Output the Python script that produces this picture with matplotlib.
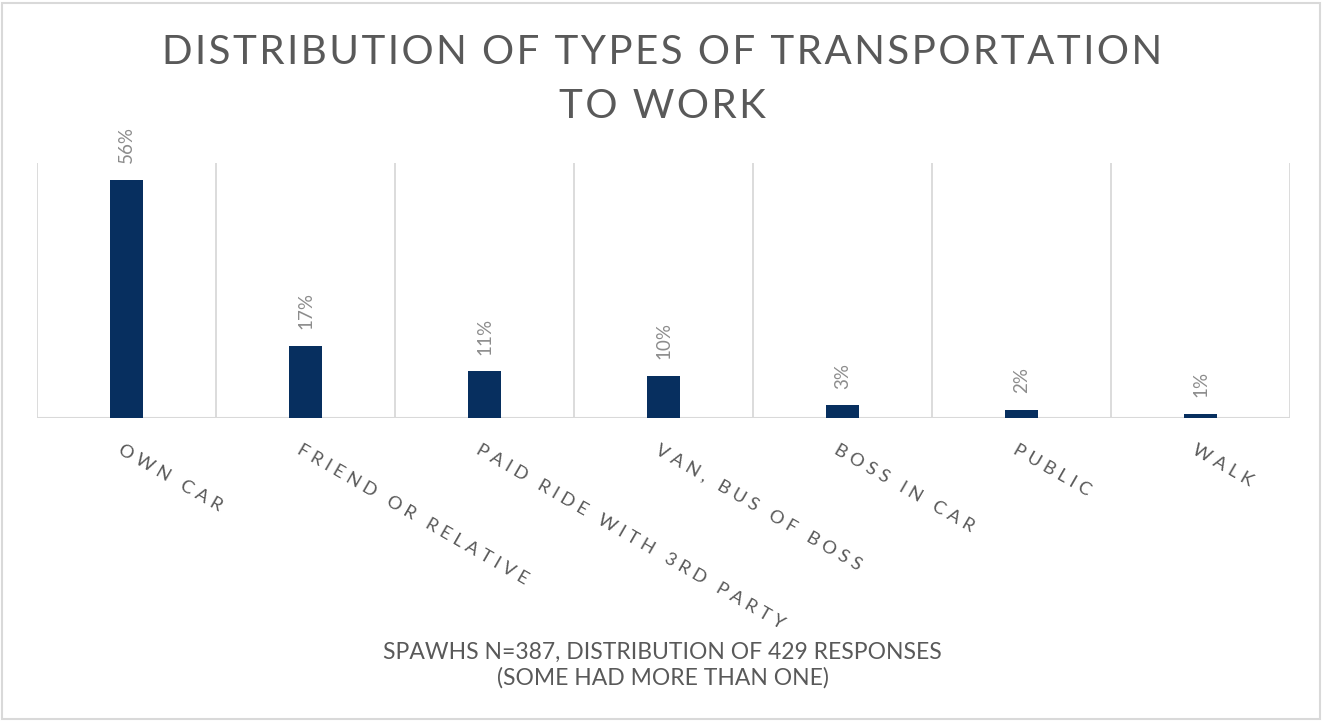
import matplotlib.pyplot as plt
import numpy as np
from matplotlib.patches import Rectangle

categories = ["OWN CAR", "FRIEND OR RELATIVE", "PAID RIDE WITH 3RD PARTY",
              "VAN, BUS OF BOSS", "BOSS IN CAR", "PUBLIC", "WALK"]
shares = [56, 17, 11, 10, 3, 2, 1]

TITLE_LINES = ["DISTRIBUTION OF TYPES OF TRANSPORTATION", "TO WORK"]
NOTE = "SPAWHS N=387, DISTRIBUTION OF 429 RESPONSES\n(SOME HAD MORE THAN ONE)"

BAR_COLOR = "#072f5f"
TEXT_COLOR = "#595959"
GRID_COLOR = "#d9d9d9"

plt.rcParams["font.family"] = ["Lato", "DejaVu Sans"]


def spaced(label: str) -> str:
    # wide tracking for the category labels
    return "   ".join(" ".join(word) for word in label.split(" "))


def tracked(line: str) -> str:
    # light tracking for the title, hair spaces between letters
    return "\u200a".join(line)


fig = plt.figure(figsize=(13.25, 7.21), dpi=100)
ax = fig.add_axes([37 / 1325, 1 - 418 / 721, (1290 - 37) / 1325, (418 - 163) / 721])

x = np.arange(len(categories))
ax.bar(x, shares, width=0.18, color=BAR_COLOR, zorder=3)

ax.set_xlim(-0.5, len(categories) - 0.5)
ax.set_ylim(0, 60)

# category boundaries as vertical gridlines
for edge in np.arange(-0.5, len(categories), 1.0):
    ax.axvline(edge, color=GRID_COLOR, linewidth=1.3, zorder=1)
ax.axhline(0, color=GRID_COLOR, linewidth=1.5, zorder=2)

for spine in ax.spines.values():
    spine.set_visible(False)
ax.set_xticks([])
ax.set_yticks([])

for xi, val in zip(x, shares):
    ax.annotate(f"{val}%", (xi, val), xytext=(0, 12), textcoords="offset points",
                rotation=90, ha="center", va="bottom", fontsize=13.5,
                color="#8c8c8c")

for xi, label in zip(x, categories):
    ax.annotate(spaced(label), (xi, 0), xytext=(-2, -17), textcoords="offset points",
                rotation=-30, rotation_mode="anchor", ha="left", va="top",
                fontsize=13.2, color=TEXT_COLOR)

fig.text(0.5, 1 - 52 / 721, tracked(TITLE_LINES[0]), ha="center", va="center",
         fontsize=29, color=TEXT_COLOR)
fig.text(0.5, 1 - 106 / 721, tracked(TITLE_LINES[1]), ha="center", va="center",
         fontsize=29, color=TEXT_COLOR)
fig.text(0.5, 1 - 665 / 721, NOTE, ha="center", va="center", fontsize=16.5,
         color=TEXT_COLOR, linespacing=1.25)

fig.patches.append(Rectangle((2 / 1325, 2 / 721), 1318 / 1325, 716 / 721,
                             transform=fig.transFigure, fill=False,
                             edgecolor=GRID_COLOR, linewidth=1.5))

fig.savefig("out.png", dpi=100, facecolor="white")
